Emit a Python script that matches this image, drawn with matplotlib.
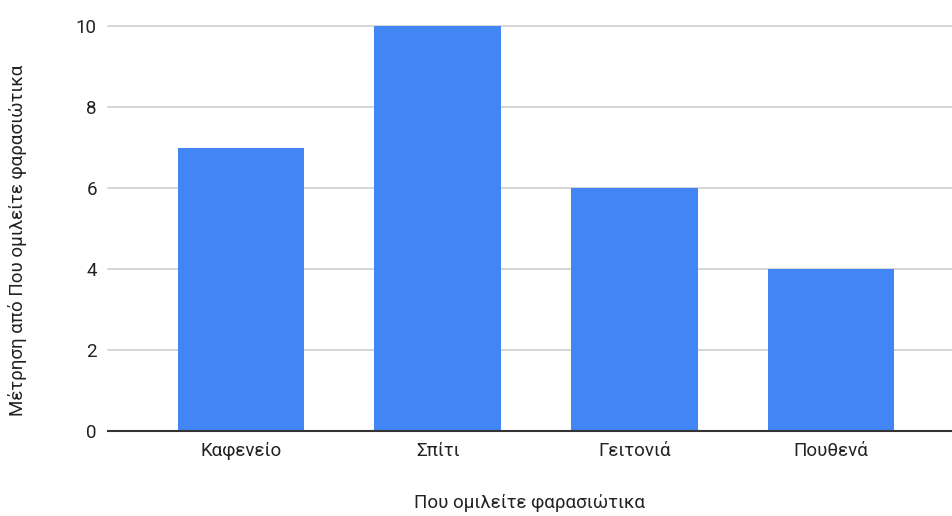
import matplotlib
matplotlib.use("Agg")
import matplotlib.pyplot as plt

categories = ["Καφενείο", "Σπίτι", "Γειτονιά", "Πουθενά"]
counts = [7, 10, 6, 4]
y_ticks = [0, 2, 4, 6, 8, 10]

plt.rcParams['font.family'] = ['Roboto', 'DejaVu Sans']

W, H = 952, 516
fig = plt.figure(figsize=(W / 100, H / 100), dpi=100)
left, right, top, bottom = 108, 952, 26, 431
ax = fig.add_axes([left / W, 1 - bottom / H, (right - left) / W, (bottom - top) / H])

x = list(range(len(categories)))
ax.bar(x, counts, width=0.645, color="#4285F4", zorder=3)

ax.set_xlim(-0.676, 3.615)
ax.set_ylim(0, 10)
ax.set_yticks(y_ticks)
ax.set_yticklabels([str(v) for v in y_ticks])
ax.set_xticks(x)
ax.set_xticklabels(categories)

for v in y_ticks[1:]:
    ax.axhline(v, color="#d0d0d0", linewidth=1.2, zorder=1, clip_on=False)
ax.axhline(0, color="#333333", linewidth=1.5, zorder=4, clip_on=False)

for s in ax.spines.values():
    s.set_visible(False)
ax.tick_params(axis="both", length=0, labelsize=13.5, colors="#222222")
ax.tick_params(axis="y", pad=8)
ax.tick_params(axis="x", pad=8)

fig.text(530 / W, 1 - 503 / H, "Που ομιλείτε φαρασιώτικα", fontsize=13.5,
         color="#222222", ha="center", va="center")
fig.text(18 / W, 1 - 240 / H, "Μέτρηση από Που ομιλείτε φαρασιώτικα", fontsize=13.5,
         color="#222222", ha="center", va="center", rotation=90)

fig.savefig("out.png", dpi=100, facecolor="white")
